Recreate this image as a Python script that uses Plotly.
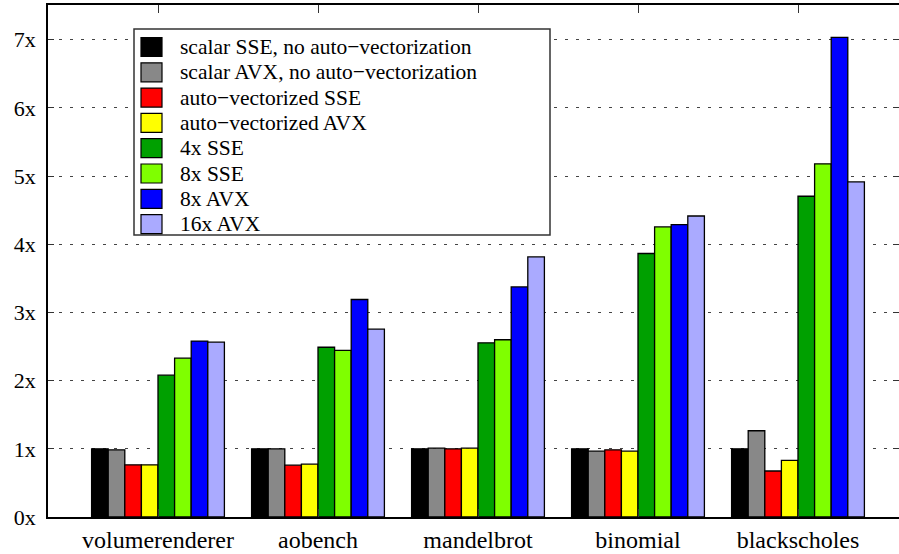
import plotly.graph_objects as go

categories = ["volumerenderer", "aobench", "mandelbrot", "binomial", "blackscholes"]
series_names = [
    "scalar SSE, no auto\u2212vectorization",
    "scalar AVX, no auto\u2212vectorization",
    "auto\u2212vectorized SSE",
    "auto\u2212vectorized AVX",
    "4x SSE",
    "8x SSE",
    "8x AVX",
    "16x AVX",
]
series_colors = ["#000000", "#888888", "#ff0000", "#ffff00",
                 "#00a000", "#7fff00", "#0000ff", "#aaaaff"]

scalar_sse = [1.00, 1.00, 1.00, 1.00, 1.00]
scalar_avx = [0.985, 1.00, 1.01, 0.965, 1.265]
autovec_sse = [0.765, 0.76, 1.00, 0.985, 0.675]
autovec_avx = [0.765, 0.775, 1.01, 0.965, 0.83]
sse_4x = [2.08, 2.49, 2.555, 3.865, 4.705]
sse_8x = [2.33, 2.445, 2.60, 4.255, 5.18]
avx_8x = [2.58, 3.19, 3.375, 4.29, 7.035]
avx_16x = [2.565, 2.755, 3.815, 4.415, 4.915]
series_values = [scalar_sse, scalar_avx, autovec_sse, autovec_avx,
                 sse_4x, sse_8x, avx_8x, avx_16x]

y_ticks = [0, 1, 2, 3, 4, 5, 6, 7]

W, H = 899, 554
ML, MT, MB, MR = 48, 5, 37, 0
PW = W - ML - MR
PH = H - MT - MB

FONT = "Liberation Serif"

fig = go.Figure()
xs = list(range(len(categories)))
for name, vals, col in zip(series_names, series_values, series_colors):
    fig.add_trace(go.Bar(
        x=xs, y=vals, name=name,
        marker=dict(color=col, line=dict(color="#000000", width=1.3)),
        showlegend=False,
    ))

# invisible trace for the mirrored right-hand tick marks
fig.add_trace(go.Scatter(x=[None], y=[None], yaxis="y2", showlegend=False,
                         hoverinfo="skip"))

fig.update_layout(
    width=W, height=H,
    margin=dict(l=ML, r=MR, t=MT, b=MB, pad=0),
    paper_bgcolor="white", plot_bgcolor="white",
    barmode="group", bargap=0.17, bargroupgap=0,
    font=dict(family=FONT, size=22, color="black"),
    xaxis=dict(
        range=[-0.6875, -0.6875 + PW / 160.0],
        tickmode="array", tickvals=xs, ticktext=categories,
        ticks="inside", ticklen=8, tickcolor="#333333", tickwidth=1,
        showline=True, linecolor="#000000", linewidth=1.5, mirror="ticks",
        showgrid=False, zeroline=False, automargin=False,
        tickfont=dict(family=FONT, size=24),
    ),
    yaxis=dict(
        range=[0, 7.51],
        tickmode="array", tickvals=y_ticks,
        ticktext=[f"{v}x" for v in y_ticks],
        ticks="inside", ticklen=6, tickcolor="#333333",
        showline=True, linecolor="#000000", linewidth=1.5, mirror=False,
        showgrid=True, gridcolor="#444444", gridwidth=1, griddash="3px,8px",
        zeroline=False, ticklabelstandoff=6, automargin=False,
        tickfont=dict(family=FONT, size=22),
    ),
    yaxis2=dict(
        overlaying="y", side="right", range=[0, 7.51],
        tickmode="array", tickvals=y_ticks, ticks="inside", ticklen=6,
        tickcolor="#333333", showticklabels=False, showline=False,
        showgrid=False, zeroline=False, automargin=False,
    ),
)

# legend box (drawn manually to match large swatches)
def px_x(p):
    return (p - ML) / PW

def px_y(p):
    return (H - MB - p) / PH

box_l, box_t, box_r, box_b = 134, 29, 550, 235
fig.add_shape(type="rect", xref="paper", yref="paper",
              x0=px_x(box_l), x1=px_x(box_r), y0=px_y(box_b), y1=px_y(box_t),
              fillcolor="white", line=dict(color="#333333", width=1.5),
              layer="above")
row0, row_step = 47, 25.3
for i, (name, col) in enumerate(zip(series_names, series_colors)):
    cy = row0 + i * row_step
    fig.add_shape(type="rect", xref="paper", yref="paper",
                  x0=px_x(141), x1=px_x(162), y0=px_y(cy + 9.5), y1=px_y(cy - 9.5),
                  fillcolor=col, line=dict(color="#000000", width=1.2),
                  layer="above")
    fig.add_annotation(xref="paper", yref="paper", x=px_x(178), y=px_y(cy),
                       text=name, showarrow=False, xanchor="left",
                       yanchor="middle", font=dict(family=FONT, size=21.5))

fig.write_html("out.html", config={"displayModeBar": False},
               post_script="document.body.style.margin='0px';")
